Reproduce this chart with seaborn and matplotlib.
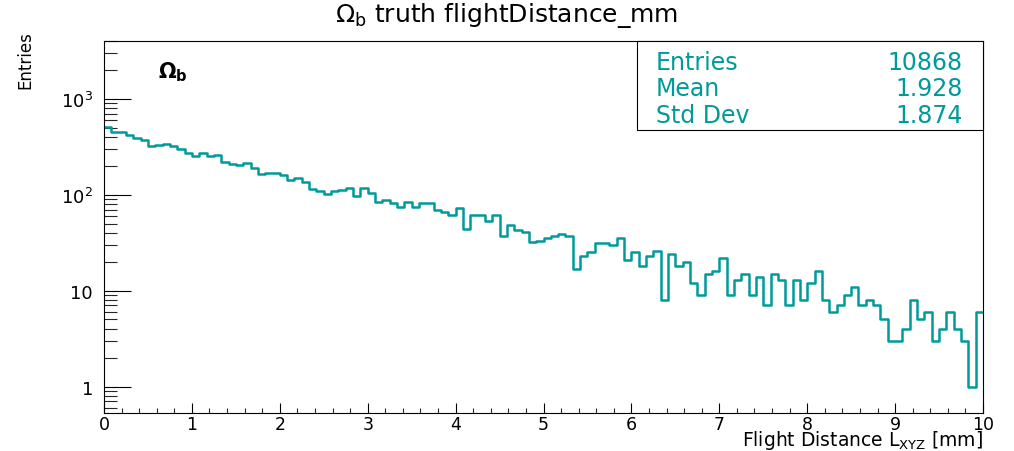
import numpy as np
import matplotlib
matplotlib.use("Agg")
import matplotlib.pyplot as plt
import seaborn as sns
from matplotlib.ticker import MultipleLocator, LogLocator, FuncFormatter, NullFormatter
from matplotlib.patches import Rectangle

# histogram: 120 bins between 0 and 10 mm, counts
n_bins = 120
x_range = (0, 10)
counts = [512, 454, 454, 418, 393, 370, 321, 326, 334, 321, 303, 273, 254, 269, 256,
          258, 220, 211, 203, 215, 190, 166, 170, 168, 159, 143, 151, 136,
          116, 109, 102, 110, 113, 117, 98, 118, 104, 84, 87, 82, 74, 84, 74, 82,
          82, 69, 66, 62, 73, 44, 61, 61, 53, 61, 37, 48, 43, 41, 32, 33,
          35, 37, 39, 37, 17, 23, 25, 31, 31, 30, 35, 21, 25, 18, 23, 26, 8, 24,
          18, 20, 12, 9, 15, 16, 22, 9, 13, 15,
          9, 14, 7, 15, 13, 7, 13, 8, 12, 16, 8, 6, 7, 9, 11, 7, 8, 7, 5, 3,
          3, 4, 8, 5, 6, 3, 4, 6, 4, 3, 1, 6]

# stats box
stat_names = ["Entries", "Mean", "Std Dev"]
stat_values = ["10868", "1.928", "1.874"]

teal = "#009a9a"
W, H = 1014, 452

sns.set_theme(style="white")
plt.rcParams['font.family'] = ['DejaVu Sans']
plt.rcParams['mathtext.fontset'] = 'dejavusans'
plt.rcParams['text.color'] = 'black'

fig = plt.figure(figsize=(W / 100, H / 100), dpi=100)
ax = fig.add_axes([104 / W, 1 - 414 / H, (983 - 104) / W, (414 - 42) / H])

edges = np.linspace(x_range[0], x_range[1], n_bins + 1)
centers = (edges[:-1] + edges[1:]) / 2
sns.histplot(x=centers, weights=np.array(counts, dtype=float), bins=n_bins, binrange=x_range,
             element="step", fill=False, color=teal, linewidth=1.8, ax=ax)

ax.set_yscale('log')
ax.set_xlim(0, 10)
ax.set_ylim(0.53, 4000)
ax.set_xlabel('')
ax.set_ylabel('')

# ticks, ROOT style (inside, left/bottom only)
ax.xaxis.set_major_locator(MultipleLocator(1))
ax.xaxis.set_minor_locator(MultipleLocator(0.2))
ax.yaxis.set_major_locator(LogLocator(base=10, numticks=10))
ax.yaxis.set_minor_locator(LogLocator(base=10, subs=range(2, 10), numticks=100))
ax.yaxis.set_minor_formatter(NullFormatter())


def log_label(v, pos):
    if v == 1:
        return '1'
    if v == 10:
        return '10'
    return r'$10^{%d}$' % int(round(np.log10(v)))


ax.yaxis.set_major_formatter(FuncFormatter(log_label))
ax.tick_params(axis='y', which='major', direction='in', length=19.5, width=0.8,
               left=True, right=False, pad=8, labelsize=13, colors='black')
ax.tick_params(axis='y', which='minor', direction='in', length=9.5, width=0.8,
               left=True, right=False)
ax.tick_params(axis='x', which='major', direction='in', length=7.5, width=0.8,
               bottom=True, top=False, pad=1.5, labelsize=12.5, colors='black')
ax.tick_params(axis='x', which='minor', direction='in', length=3.8, width=0.8,
               bottom=True, top=False)
for s in ax.spines.values():
    s.set_color('black')
    s.set_linewidth(0.8)

# stats box
fig.add_artist(Rectangle((637 / W, 1 - 131 / H), (983 - 637) / W, (131 - 42) / H,
                         transform=fig.transFigure, facecolor='white',
                         edgecolor='black', linewidth=0.8, zorder=3))
for i, (name, val) in enumerate(zip(stat_names, stat_values)):
    y = 1 - (69.5 + 27 * i) / H
    fig.text(656 / W, y, name, color=teal, fontsize=17, va='baseline', zorder=4)
    fig.text(963 / W, y, val, color=teal, fontsize=17, va='baseline', ha='right', zorder=4)

# texts
fig.text(0.5, 1 - 22 / H, r'$\Omega_{\mathrm{b}}$ truth flightDistance_mm',
         ha='center', va='baseline', fontsize=18)
fig.text(158 / W, 1 - 78 / H, r'$\mathbf{\Omega_{b}}$', fontsize=15, va='baseline')
fig.text(25 / W, 1 - 60 / H, 'Entries', rotation=90, ha='center', va='center', fontsize=12)
fig.text(983 / W, 1 - 446 / H, r'Flight Distance L$_{\mathrm{XYZ}}$ [mm]',
         ha='right', va='baseline', fontsize=13.5)

fig.savefig('out.png', dpi=100)
